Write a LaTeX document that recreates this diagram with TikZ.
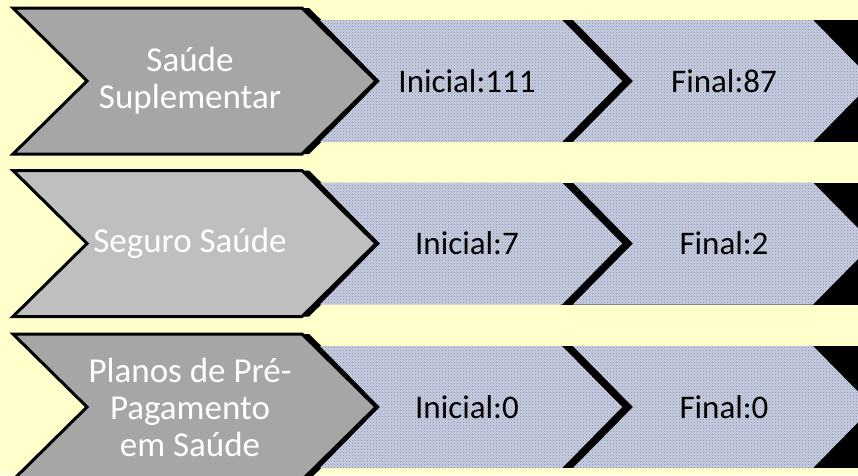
\documentclass[tikz,border=0pt]{standalone}
\usepackage{fontspec}
\setmainfont{Carlito}
\usetikzlibrary{patterns}
\definecolor{bgyellow}{HTML}{FFFFCC}
\definecolor{chevdark}{HTML}{A6A6A6}
\definecolor{chevlight}{HTML}{BFBFBF}
\definecolor{bluefill}{HTML}{C9CFE2}
\definecolor{bluedot}{HTML}{7F869F}
\tikzset{
  graychev/.style={draw=black,line width=3pt,line join=miter},
  bluechev/.style={fill=bluefill,postaction={pattern=crosshatch dots,pattern color=bluedot}},
  grayname/.style={text=white,font=\fontsize{35}{37}\selectfont,align=center},
  countname/.style={text=black,font=\fontsize{33}{35}\selectfont}
}
\begin{document}
\begin{tikzpicture}[x=1pt,y=-1pt]
   \clip (0,0) rectangle (858,475);
   \fill[bgyellow] (0,0) rectangle (858,475);
   \foreach \m/\g/\name/\a/\b [count=\i] in {81/chevdark/{Saúde\\Suplementar}/111/87,
       243.5/chevlight/{Seguro Saúde}/7/2,
       407/chevdark/{Planos de Pré-\\Pagamento\\em Saúde}/0/0}{
     % black behind the steps and the gray shadow
     \fill[black] (560,\m-61) rectangle (858,\m+61);
     \fill[black] (20,\m-73) -- (309,\m-73) -- (384,\m) -- (309,\m+73) -- (20,\m+73) -- (94,\m) -- cycle;
     \path[bluechev] (320,\m-61) -- (562,\m-61) -- (622,\m) -- (562,\m+61) -- (320,\m+61) -- (380,\m) -- cycle;
     \path[bluechev] (573,\m-61) -- (813,\m-61) -- (873,\m) -- (813,\m+61) -- (573,\m+61) -- (633,\m) -- cycle;
     \draw[graychev,fill=\g] (13,\m-73) -- (302,\m-73) -- (376,\m) -- (302,\m+73) -- (13,\m+73) -- (87,\m) -- cycle;
     \node[grayname] (name\i) at (190,\m) {\name};
     \node[countname] (ini\i) at (467,\m) {Inicial:\a};
     \node[countname] (fin\i) at (724,\m) {Final:\b};
   }
\end{tikzpicture}
\end{document}
